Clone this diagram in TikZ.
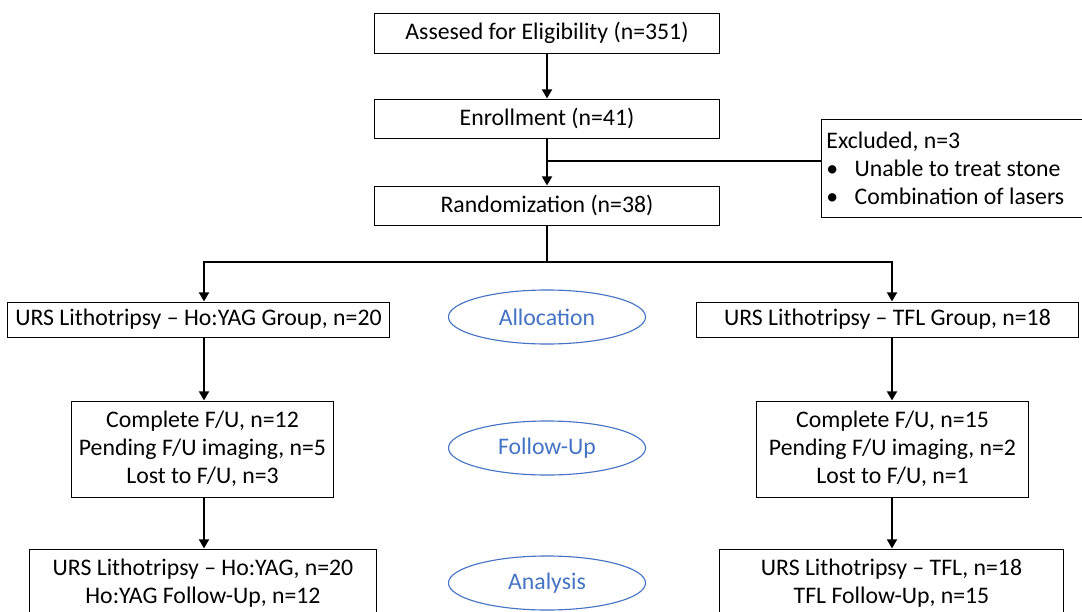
\documentclass[tikz,border=0pt]{standalone}
\usepackage{fontspec}
\setmainfont{Carlito}
\usetikzlibrary{arrows, arrows.meta, shapes, positioning}
\definecolor{azulfase}{HTML}{4472C4}

\begin{document}
\begin{tikzpicture}[x=0.025cm, y=-0.025cm,
	font=\fontsize{16.9}{20}\selectfont,
	caja/.style={draw, line width=0.7pt, align=center, inner sep=0pt},
	fase/.style={draw=azulfase, ellipse, text=azulfase, line width=0.8pt, minimum width=4.925cm, minimum height=1.35cm, inner sep=0pt},
	flecha/.style={-{Triangle[width=7pt,length=6.5pt]}, line width=1.8pt},
	linea/.style={line width=1.8pt}]
				\clip (0,0) rectangle (1082,611);
				% Nodos
				\node[caja, minimum width=8.6cm, minimum height=1.0cm] (elig) at (547,33) {Assesed for Eligibility (n=351)};
				\node[caja, minimum width=8.6cm, minimum height=0.975cm] (enrol) at (547,118.5) {Enrollment (n=41)};
				\node[caja, minimum width=8.6cm, minimum height=0.975cm] (rand) at (547,205.5) {Randomization (n=38)};
				\node[caja, align=flush left, text width=6.5cm, minimum height=2.425cm, inner xsep=3.5pt] (excl) at (956.5,168.5)
					{\frenchspacing Excluded, n=3\\\makebox[20pt][l]{\textbullet}Unable to treat stone\\\makebox[20pt][l]{\textbullet}Combination of lasers};
				\node[caja, minimum width=9.525cm, minimum height=0.875cm] (grpA) at (198.5,319.5) {URS Lithotripsy -- Ho:YAG Group, n=20};
				\node[caja, minimum width=9.525cm, minimum height=0.875cm] (grpB) at (887.5,319.5) {URS Lithotripsy -- TFL Group, n=18};
				\node[caja, minimum width=6.525cm, minimum height=2.4cm] (fuA) at (202.5,449) {Complete F/U, n=12\\Pending F/U imaging, n=5\\Lost to F/U, n=3};
				\node[caja, minimum width=6.775cm, minimum height=2.4cm] (fuB) at (892.5,449) {Complete F/U, n=15\\Pending F/U imaging, n=2\\Lost to F/U, n=1};
				\node[caja, minimum width=8.65cm, minimum height=1.7cm] (anA) at (203,583) {URS Lithotripsy -- Ho:YAG, n=20\\Ho:YAG Follow-Up, n=12};
				\node[caja, minimum width=8.575cm, minimum height=1.7cm] (anB) at (891.5,583) {URS Lithotripsy -- TFL, n=18\\TFL Follow-Up, n=15};
				\node[fase] (aloc) at (547,317) {Allocation};
				\node[fase] (segui) at (547,448) {Follow-Up};
				\node[fase] (anal) at (547,583) {Analysis};
				% Flechas
				\coordinate (cruce) at (547,161);
				\coordinate (bifur) at (547,262);
				\coordinate (ramaA) at (204,262);
				\coordinate (ramaB) at (892,262);
				\draw[flecha] (elig) -- (enrol);
				\draw[flecha] (enrol) -- (rand);
				\draw[linea] (cruce) -- (cruce -| excl.west);
				\draw[linea] (rand) -- (bifur);
				\draw[flecha] (bifur) -| (ramaA |- grpA.north);
				\draw[flecha] (bifur) -| (ramaB |- grpB.north);
				\draw[flecha] (ramaA |- grpA.south) -- (ramaA |- fuA.north);
				\draw[flecha] (ramaB |- grpB.south) -- (ramaB |- fuB.north);
				\draw[flecha] (ramaA |- fuA.south) -- (ramaA |- anA.north);
				\draw[flecha] (ramaB |- fuB.south) -- (ramaB |- anB.north);
\end{tikzpicture}
\end{document}
